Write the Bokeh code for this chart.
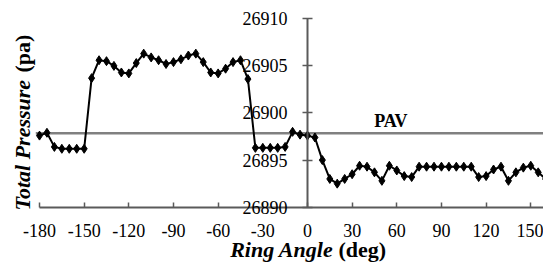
import math
from bokeh.plotting import figure
from bokeh.models import (LinearAxis, FixedTicker, Label, Range1d,
                          CustomJSTickFormatter)
from bokeh.embed import file_html
from bokeh.resources import INLINE

# ---- data ----
angles = [-180, -175, -170, -165, -160, -155, -150, -145, -140, -135, -130, -125,
          -120, -115, -110, -105, -100, -95, -90, -85, -80, -75, -70, -65, -60,
          -55, -50, -45, -40, -35, -30, -25, -20, -15, -10, -5, 0, 5, 10, 15, 20,
          25, 30, 35, 40, 45, 50, 55, 60, 65, 70, 75, 80, 85, 90, 95, 100, 105,
          110, 115, 120, 125, 130, 135, 140, 145, 150, 155, 160]
pressure = [26897.6, 26897.9, 26896.4, 26896.2, 26896.2, 26896.2, 26896.2,
            26903.7, 26905.6, 26905.5, 26905.0, 26904.3, 26904.2, 26905.3,
            26906.3, 26905.9, 26905.6, 26905.2, 26905.4, 26905.7, 26906.1,
            26906.3, 26905.4, 26904.3, 26904.2, 26904.7, 26905.4, 26905.6,
            26903.6, 26896.3, 26896.3, 26896.3, 26896.3, 26896.4, 26898.0,
            26897.7, 26897.6, 26897.4, 26895.0, 26893.0, 26892.5, 26893.0,
            26893.5, 26894.4, 26894.3, 26893.7, 26892.8, 26894.4, 26893.9,
            26893.3, 26893.2, 26894.3, 26894.3, 26894.3, 26894.3, 26894.3,
            26894.3, 26894.3, 26894.3, 26893.2, 26893.3, 26894.0, 26894.3,
            26892.8, 26893.7, 26894.2, 26894.4, 26893.7, 26893.0]
pav_value = 26897.85
x_ticks = [-180, -150, -120, -90, -60, -30, 0, 30, 60, 90, 120, 150]
y_ticks = [26890, 26895, 26900, 26905, 26910]

# axis extents
X_MIN, X_MAX = -180, 158.55
Y_MIN, Y_MAX = 26890, 26910

FONT = "Liberation Serif"
FS = "18px"
TFS = "22px"
AXIS_COLOR = "#5a5a5a"

# the frame covers the whole canvas; the axes are drawn at fixed locations
p = figure(width=543, height=262, output_backend="svg", toolbar_location=None,
           x_range=Range1d(-206.2, X_MAX), y_range=Range1d(26884.13, 26911.94),
           x_axis_type=None, y_axis_type=None,
           min_border_left=0, min_border_right=0, min_border_top=0,
           min_border_bottom=0)
p.outline_line_color = None
p.background_fill_color = "white"
p.border_fill_color = "white"

fmt = CustomJSTickFormatter(code="return tick.toFixed(0);")

xaxis = LinearAxis(ticker=FixedTicker(ticks=x_ticks), formatter=fmt,
                   fixed_location=Y_MIN, bounds=(X_MIN, X_MAX))
xaxis.major_tick_in = 5
xaxis.major_tick_out = 0
xaxis.minor_tick_line_color = None
xaxis.axis_line_color = AXIS_COLOR
xaxis.axis_line_width = 2
xaxis.major_tick_line_color = AXIS_COLOR
xaxis.major_tick_line_width = 1.5
xaxis.major_label_text_font = FONT
xaxis.major_label_text_font_size = FS
xaxis.major_label_text_color = "black"
xaxis.major_label_standoff = 17
p.add_layout(xaxis, "below")

yaxis = LinearAxis(ticker=FixedTicker(ticks=y_ticks), formatter=fmt,
                   fixed_location=0, bounds=(Y_MIN, Y_MAX))
yaxis.major_tick_in = 5
yaxis.major_tick_out = 5
yaxis.minor_tick_line_color = None
yaxis.axis_line_color = AXIS_COLOR
yaxis.axis_line_width = 2
yaxis.major_tick_line_color = AXIS_COLOR
yaxis.major_tick_line_width = 1.5
yaxis.major_label_text_font = FONT
yaxis.major_label_text_font_size = FS
yaxis.major_label_text_color = "black"
yaxis.major_label_standoff = 15
p.add_layout(yaxis, "left")

# PAV reference line
p.segment(x0=[-182.5], y0=[pav_value], x1=[X_MAX], y1=[pav_value],
          line_color="#808080", line_width=2.5)

p.line(angles, pressure, line_color="black", line_width=2)
p.scatter(angles, pressure, marker="diamond", size=9, color="black")

p.add_layout(Label(x=56, y=pav_value, y_offset=12, text="PAV", text_font=FONT,
                   text_font_size=FS, text_font_style="bold", text_align="center",
                   text_baseline="alphabetic", text_color="black"))

# axis titles (screen units: x from left, y from bottom)
p.add_layout(Label(x=22, y=52, x_units="screen", y_units="screen",
                   text="Total Pressure", angle=math.pi / 2, text_font=FONT,
                   text_font_size=TFS, text_font_style="bold italic",
                   text_align="left", text_baseline="alphabetic", text_color="black"))
p.add_layout(Label(x=22, y=190, x_units="screen", y_units="screen",
                   text="(pa)", angle=math.pi / 2, text_font=FONT,
                   text_font_size=TFS, text_font_style="bold",
                   text_align="left", text_baseline="alphabetic", text_color="black"))
p.add_layout(Label(x=0, x_offset=26, y=13, y_units="screen", text="Ring Angle",
                   text_font=FONT, text_font_size=TFS, text_font_style="bold italic",
                   text_align="right", text_baseline="alphabetic", text_color="black"))
p.add_layout(Label(x=0, x_offset=31, y=13, y_units="screen", text="(deg)",
                   text_font=FONT, text_font_size=TFS, text_font_style="bold",
                   text_align="left", text_baseline="alphabetic", text_color="black"))

open("out.html", "w").write(file_html(p, INLINE))
